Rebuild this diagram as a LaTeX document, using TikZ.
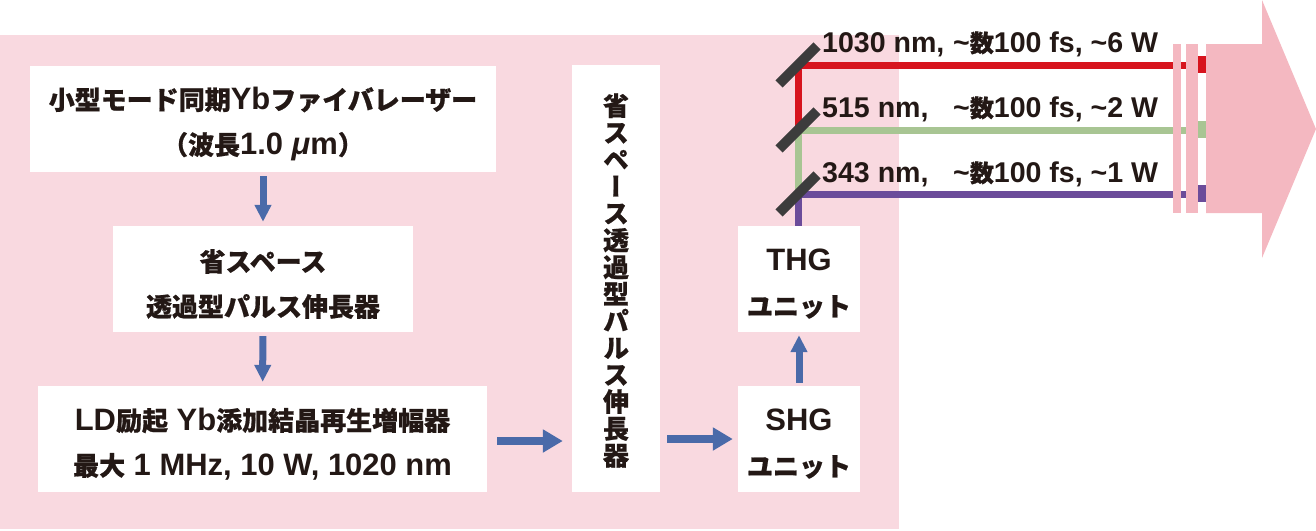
\documentclass[tikz,border=0pt]{standalone}
\usepackage{fontspec}
\setmainfont{Liberation Sans}[Scale=1.19]
\newfontfamily\cjk{Noto Sans CJK JP}[BoldFeatures={FakeBold=0.7}]
\newfontfamily\cjkv{Noto Sans CJK JP}[RawFeature=+vert, BoldFeatures={FakeBold=0.7}]
\usetikzlibrary{arrows.meta}
\definecolor{bgpink}{HTML}{F9D9E0}
\definecolor{arrpink}{HTML}{F4B8C1}
\definecolor{flow}{HTML}{4A6AA9}
\definecolor{ink}{HTML}{231815}
\definecolor{beamred}{HTML}{D7141E}
\definecolor{beamgreen}{HTML}{A8C593}
\definecolor{beamviolet}{HTML}{6B4C9A}
\definecolor{mirrorgray}{HTML}{3C3C3C}
\begin{document}
\begin{tikzpicture}[x=1pt,y=-1pt,
  box/.style={fill=white, inner sep=0pt},
  txt/.style={inner sep=0pt, align=center, text=ink, yshift=-5pt, font=\bfseries\fontsize{26}{45}\selectfont},
  vflow/.style={draw=flow, line width=7pt, -{Triangle[width=16pt,length=17pt]}},
  hflow/.style={draw=flow, line width=8pt, -{Triangle[width=22pt,length=20pt]}},
  beam/.style={line width=7pt, line join=miter},
  mirror/.style={draw=mirrorgray, line width=10pt},
  lbl/.style={anchor=base west, inner sep=0pt, text=ink, font=\bfseries\fontsize{24}{30}\selectfont}]
\useasboundingbox (0,0) rectangle (1316,530);
\fill[bgpink] (0,35) rectangle (899,529);

% boxes
\node[box, minimum width=466pt, minimum height=106pt] (b1) at (263,119) {};
\node[txt] (b1t) at (b1.center)
  {{\cjk 小型モード同期}Yb{\cjk ファイバレーザー}\\{\cjk （波長}1.0 \textit{μ}m{\cjk ）}};
\node[box, minimum width=300pt, minimum height=106pt] (b2) at (263,279) {};
\node[txt] (b2t) at (b2.center)
  {{\cjk 省スペース}\\{\cjk 透過型パルス伸長器}};
\node[box, minimum width=449pt, minimum height=106pt] (b3) at (262.5,439) {};
\node[txt] (b3t) at (b3.center)
  {LD{\cjk 励起} Yb{\cjk 添加結晶再生増幅器}\\{\cjk 最大} 1 MHz, 10 W, 1020 nm};
\node[box, minimum width=88pt, minimum height=427pt] (v) at (616,278.5) {};
\node[txt, yshift=3pt, font=\bfseries\cjkv\fontsize{26}{26.9}\selectfont] (vt) at (v.center)
  {省\\ス\\ペ\\ー\\ス\\透\\過\\型\\パ\\ル\\ス\\伸\\長\\器};
\node[box, minimum width=122pt, minimum height=106pt] (s) at (799,439) {};
\node[txt] (st) at (s.center) {SHG\\{\cjk ユニット}};
\node[box, minimum width=122pt, minimum height=106pt] (t) at (799,279) {};
\node[txt] (tt) at (t.center) {THG\\{\cjk ユニット}};

% flow arrows
\draw[vflow, shorten <=4pt, shorten >=4pt] (b1) -- (b2);
\draw[vflow, shorten <=4pt, shorten >=4pt] (b2) -- (b3);
\draw[hflow, shorten <=10pt, shorten >=9pt] ([yshift=-2pt]b3.east) -- ([yshift=-2pt]b3.east -| v.west);
\draw[hflow, shorten <=7pt, shorten >=5pt] (v.east |- s.west) -- (s.west);
\draw[vflow, shorten <=3pt, shorten >=3pt] (s) -- (t);

% beams
\coordinate (m1) at (798,65);
\coordinate (m2) at (798,130);
\coordinate (m3) at (798,194);
\coordinate (e1) at (1200,65);
\coordinate (e2) at (1200,130);
\coordinate (e3) at (1200,194);
\draw[beam, beamred] (m2) -- (m1) -- (e1);
\draw[beam, beamgreen] (m3) -- (m2) -- (e2);
\draw[beam, beamviolet] (t.north -| m3) -- (m3) -- (e3);
\fill[beamred] (1197,56) rectangle (1206,73);
\fill[beamgreen] (1197,121) rectangle (1206,138);
\fill[beamviolet] (1197,185) rectangle (1206,202);

% mirrors
\foreach \m in {m1,m2,m3}
  \draw[mirror] ([shift={(-19,19)}]\m) -- ([shift={(19,-19)}]\m);

% labels
\node[lbl] (l1a) at (822,52) {1030 nm,};
\node[lbl] (l1b) at (953,52) {\char`~{\cjk 数}100 fs, \char`~6 W};
\node[lbl] (l2a) at (822,117) {515 nm,};
\node[lbl] (l2b) at (953,117) {\char`~{\cjk 数}100 fs, \char`~2 W};
\node[lbl] (l3a) at (822,182) {343 nm,};
\node[lbl] (l3b) at (953,182) {\char`~{\cjk 数}100 fs, \char`~1 W};

% output arrow with plates
\fill[arrpink] (1173,44) rectangle (1181,213);
\fill[arrpink] (1186,44) rectangle (1198,213);
\fill[arrpink] (1206,44) -- (1262,44) -- (1262,0) -- (1316,129) -- (1262,258) -- (1262,213) -- (1206,213) -- cycle;
\end{tikzpicture}
\end{document}
